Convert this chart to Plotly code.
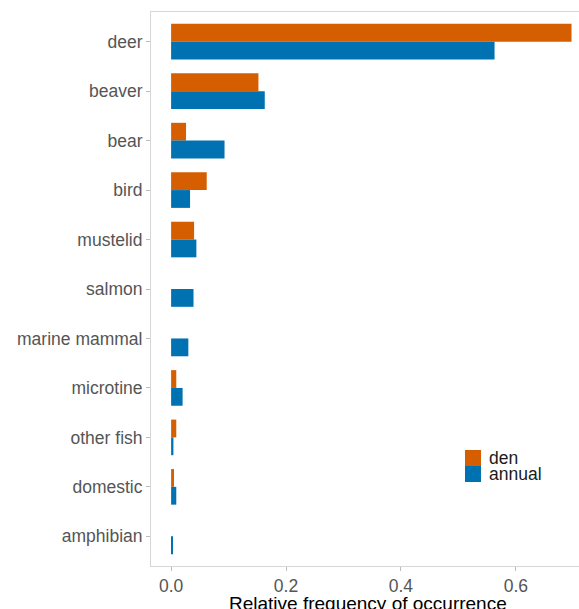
import plotly.graph_objects as go

# Prey categories, top to bottom
prey = ["deer", "beaver", "bear", "bird", "mustelid", "salmon",
        "marine mammal", "microtine", "other fish", "domestic", "amphibian"]

# Relative frequency of occurrence per season
den = [0.697, 0.152, 0.026, 0.062, 0.040, 0.0, 0.0, 0.009, 0.009, 0.005, 0.0]
annual = [0.563, 0.163, 0.093, 0.033, 0.044, 0.039, 0.030, 0.020, 0.004, 0.009, 0.003]

x_ticks = [0.0, 0.2, 0.4, 0.6]

ORANGE = "#D55E00"
BLUE = "#0072B2"
FONT = "Liberation Sans, Arial, sans-serif"

fig = go.Figure()
fig.add_trace(go.Bar(y=prey, x=den, orientation="h", name="den",
                     marker=dict(color=ORANGE, line=dict(width=0)),
                     showlegend=False))
fig.add_trace(go.Bar(y=prey, x=annual, orientation="h", name="annual",
                     marker=dict(color=BLUE, line=dict(width=0)),
                     showlegend=False))

fig.update_layout(
    width=579, height=609,
    margin=dict(l=151, r=0, t=12, b=43),
    paper_bgcolor="white", plot_bgcolor="white",
    barmode="group", bargap=0.28, bargroupgap=0,
    font=dict(family=FONT, size=17, color="#4D4D4D"),
    xaxis=dict(range=[-0.035, 0.71], tickvals=x_ticks,
               ticktext=[f"{v:.1f}" for v in x_ticks],
               showgrid=False, zeroline=False,
               showline=True, mirror=True, linecolor="#D6D6D6", linewidth=1,
               ticks="outside", ticklen=4, tickcolor="#BDBDBD",
               tickfont=dict(size=17.5, color="#555555")),
    yaxis=dict(type="category", categoryorder="array", categoryarray=prey,
               range=[10.6, -0.6], showgrid=False, zeroline=False,
               showline=True, linecolor="#D6D6D6", linewidth=1,
               ticks="outside", ticklen=4, tickcolor="#BDBDBD",
               tickfont=dict(size=17.5, color="#555555")),
)

# Axis title
fig.add_annotation(text="Relative frequency of occurrence",
                   xref="paper", yref="paper", x=0.507, y=-0.067,
                   xanchor="center", yanchor="middle", showarrow=False,
                   font=dict(family=FONT, size=19, color="#000000"))

# Legend keys
legend_items = [("den", ORANGE), ("annual", BLUE)]
px_w, px_h = 428, 554
for i, (label, col) in enumerate(legend_items):
    top = 450 + i * 16
    y0 = 1 - (top + 16 - 12) / px_h
    y1 = 1 - (top - 12) / px_h
    fig.add_shape(type="rect", xref="paper", yref="paper",
                  x0=(465 - 151) / px_w, x1=(481 - 151) / px_w,
                  y0=y0, y1=y1, fillcolor=col, line=dict(width=0))
    fig.add_annotation(text=label, xref="paper", yref="paper",
                       x=(487 - 151) / px_w, y=(y0 + y1) / 2,
                       xanchor="left", yanchor="middle", showarrow=False,
                       font=dict(family=FONT, size=17.5, color="#1A1A1A"))

fig.write_html("out.html")
